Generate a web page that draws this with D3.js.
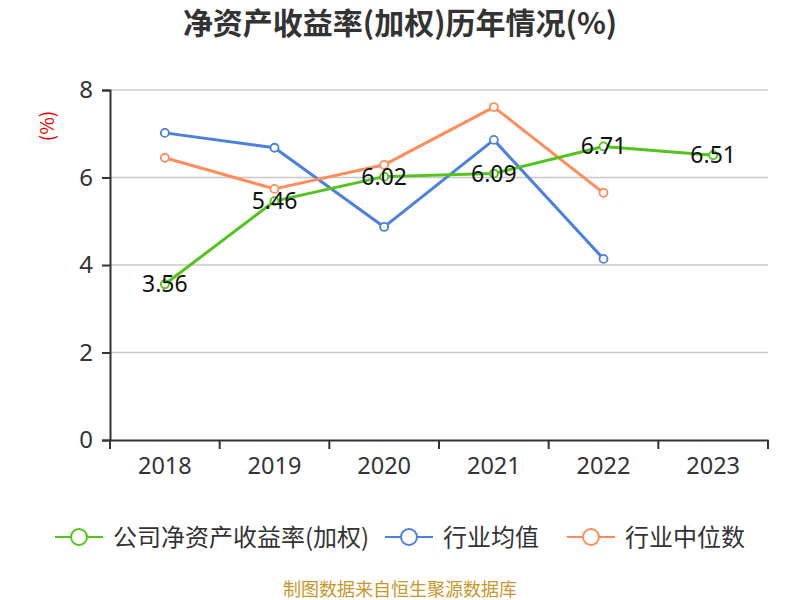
<!DOCTYPE html>
<html><head><meta charset="utf-8">
<script src="https://cdn.jsdelivr.net/npm/d3@7/dist/d3.min.js"></script>
<style>body{margin:0;background:#fff;}svg{display:block;font-family:"Noto Sans CJK SC","Noto Sans",sans-serif;}</style>
</head><body><svg id="c" width="800" height="600"></svg>
<script>
const categories = ["2018","2019","2020","2021","2022","2023"];
const companyROE = [3.56,5.46,6.02,6.09,6.71,6.51];
const industryAvg = [7.02,6.68,4.87,6.86,4.14,null];
const industryMedian = [6.45,5.74,6.29,7.61,5.65,null];
const yTicks = [0,2,4,6,8];
const seriesNames = ["公司净资产收益率(加权)","行业均值","行业中位数"];
const colors = ["#52c41a","#4b7fe0","#ff8c5a"];

(function(){
const svg = d3.select("#c");
const pl=110,pr=768,pt=90,pb=440;
const x = d3.scaleBand().domain(categories).range([pl,pr]);
const y = d3.scaleLinear().domain([0,8]).range([pb,pt]);

svg.append("text").attr("x",400).attr("y",34).attr("text-anchor","middle")
  .attr("font-size",30).attr("font-weight","bold").attr("fill","#333").text("净资产收益率(加权)历年情况(%)");

svg.append("g").selectAll("line").data(yTicks.filter(d=>d>0)).join("line")
  .attr("x1",pl).attr("x2",pr).attr("y1",d=>y(d)).attr("y2",d=>y(d))
  .attr("stroke","#c8c8c8").attr("stroke-width",1.5);

const ya = svg.append("g").attr("transform",`translate(${pl},0)`)
  .call(d3.axisLeft(y).tickValues(yTicks).tickSize(8).tickPadding(9));
ya.select(".domain").attr("stroke","#333").attr("stroke-width",2);
ya.selectAll(".tick line").attr("stroke","#333").attr("stroke-width",2);
ya.selectAll(".tick text").attr("font-size",24).attr("fill","#333").attr("font-family","'Noto Sans',sans-serif");

const xa = svg.append("g").attr("transform",`translate(0,${pb})`)
  .call(d3.axisBottom(x).tickSize(0).tickPadding(17));
xa.select(".domain").attr("stroke","#333").attr("stroke-width",2);
xa.selectAll(".tick text").attr("font-size",23.5).attr("fill","#333").attr("font-family","'Noto Sans',sans-serif");
const bounds = categories.map(c=>x(c)).concat([pr]);
xa.selectAll(".bt").data(bounds).join("line").attr("class","bt")
  .attr("x1",d=>d).attr("x2",d=>d).attr("y1",0).attr("y2",9).attr("stroke","#333").attr("stroke-width",2);

svg.append("text").attr("transform","translate(54,126) rotate(-90)").attr("text-anchor","middle")
  .attr("font-size",19).attr("fill","#e00").text("(%)");

const cx = c=>x(c)+x.bandwidth()/2;
const allSeries=[companyROE,industryAvg,industryMedian];
const line = d3.line().defined(d=>d.v!=null).x(d=>cx(d.c)).y(d=>y(d.v));
[1,2,0].forEach(i=>{
  const data = categories.map((c,j)=>({c,v:allSeries[i][j]}));
  svg.append("path").datum(data).attr("d",line).attr("fill","none")
    .attr("stroke",colors[i]).attr("stroke-width",3).attr("stroke-linejoin","round");
  svg.append("g").selectAll("circle").data(data.filter(d=>d.v!=null)).join("circle")
    .attr("cx",d=>cx(d.c)).attr("cy",d=>y(d.v)).attr("r",4)
    .attr("fill","#fff").attr("stroke",colors[i]).attr("stroke-width",1.8);
});
svg.append("g").selectAll("text").data(categories.map((c,j)=>({c,v:companyROE[j]}))).join("text")
  .attr("x",d=>cx(d.c)).attr("y",d=>y(d.v)+8).attr("text-anchor","middle")
  .attr("font-size",23).attr("fill","#111").attr("font-family","'Noto Sans',sans-serif")
  .text(d=>d.v.toFixed(2));

const legX=[55,385,567];
seriesNames.forEach((n,i)=>{
  const g=svg.append("g").attr("transform",`translate(${legX[i]},537)`);
  g.append("line").attr("x1",0).attr("x2",48).attr("stroke",colors[i]).attr("stroke-width",2);
  g.append("circle").attr("cx",24).attr("r",8).attr("fill","#fff").attr("stroke",colors[i]).attr("stroke-width",2);
  g.append("text").attr("x",58).attr("y",9).attr("font-size",24).attr("fill","#333").text(n);
});

svg.append("text").attr("x",400).attr("y",596).attr("text-anchor","middle")
  .attr("font-size",18).attr("fill","#c8962a").text("制图数据来自恒生聚源数据库");
})();
</script></body></html>
